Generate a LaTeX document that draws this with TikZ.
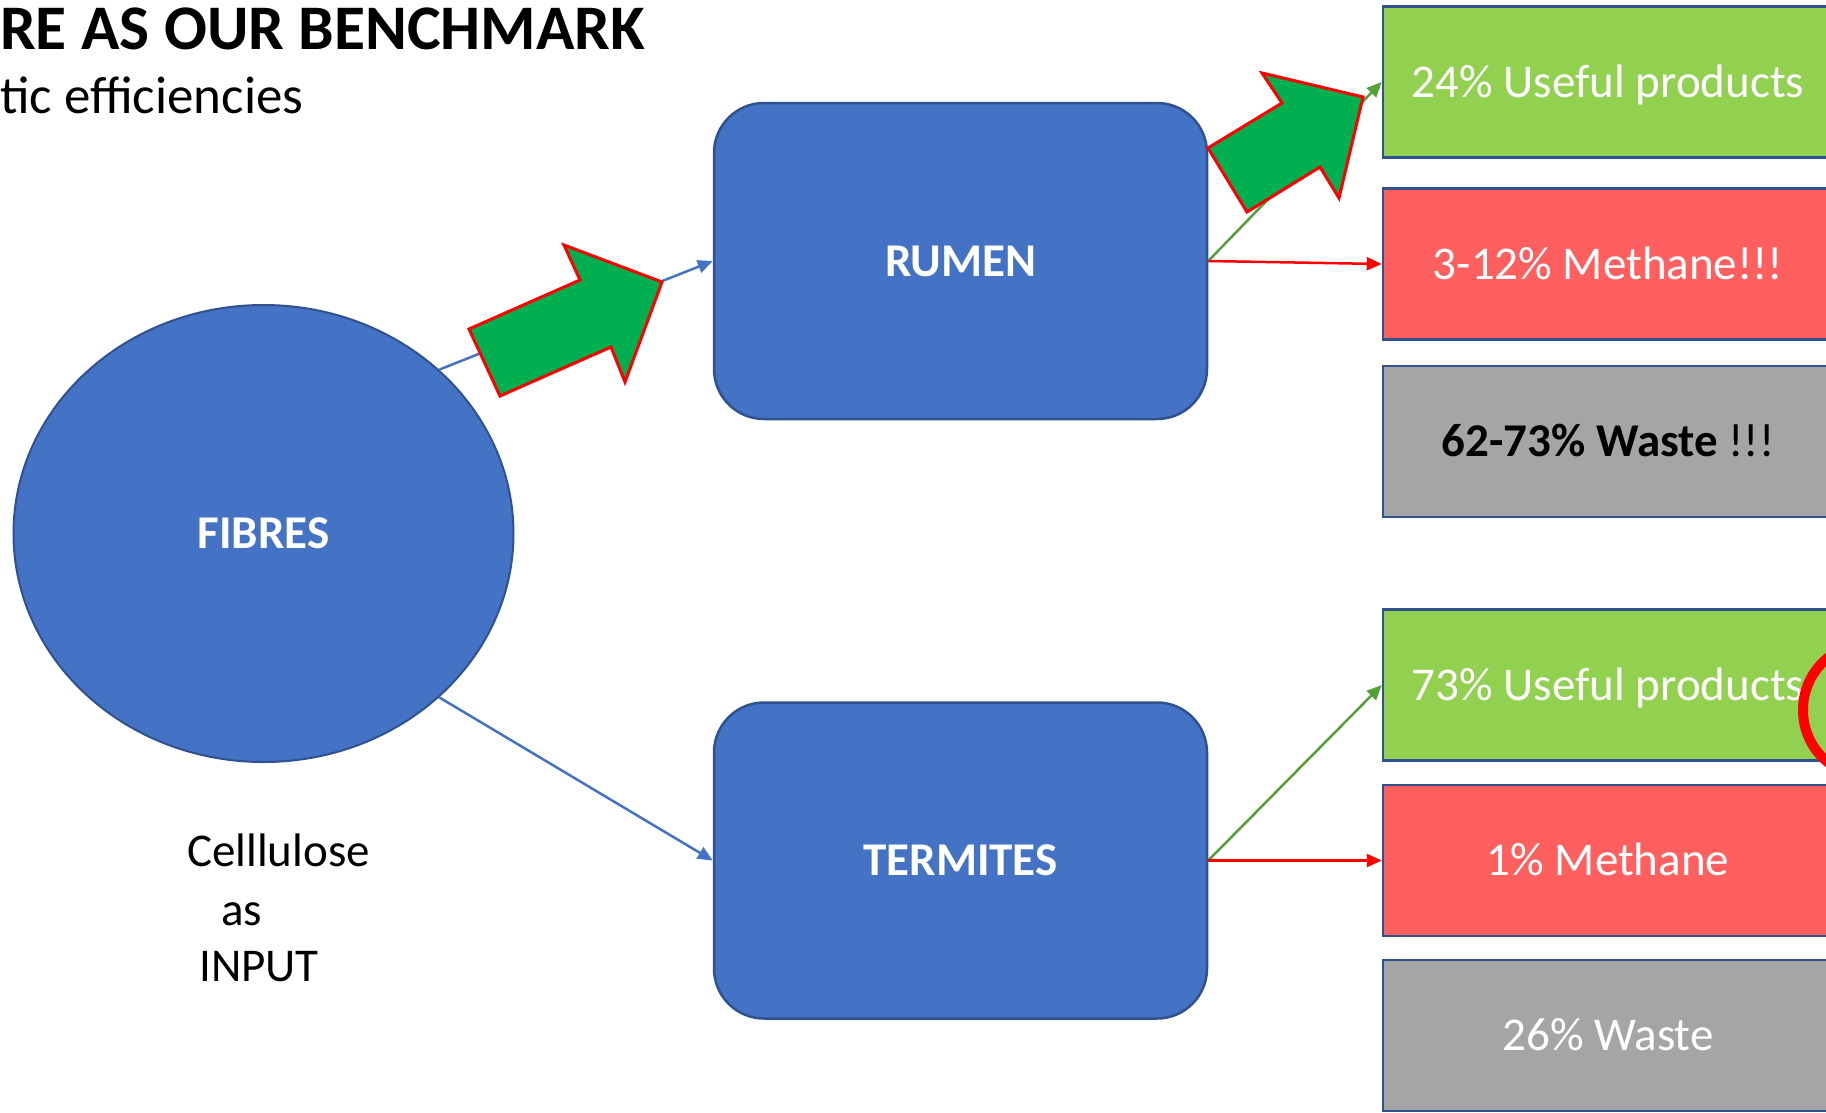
\documentclass[tikz,border=0pt]{standalone}
\usepackage{fontspec}
\setmainfont{Carlito}
\usetikzlibrary{shapes.geometric, arrows.meta, positioning}
\definecolor{boxblue}{HTML}{4472C4}
\definecolor{edgeblue}{HTML}{2F528F}
\definecolor{usegreen}{HTML}{92D050}
\definecolor{methred}{HTML}{FF5F5F}
\definecolor{wastegray}{HTML}{A5A5A5}
\definecolor{fatgreen}{HTML}{00B050}
\definecolor{linegreen}{HTML}{56A03A}

\begin{document}
\begin{tikzpicture}[
    x=1pt, y=-1pt,
    every node/.style={inner sep=0pt, font=\fontsize{47}{56}\selectfont},
    stage/.style={draw=edgeblue, line width=2.5pt, fill=boxblue, rounded corners=50pt, minimum width=493pt, minimum height=316pt, text=white, text height=30pt, text depth=0pt, font=\fontsize{47}{56}\selectfont\bfseries},
    outbox/.style={draw=edgeblue, line width=2.5pt, minimum width=450pt, minimum height=151pt, text=white, text height=30pt, text depth=0pt},
    arrow/.style={-{Triangle[length=15pt, width=13pt]}, line width=2.5pt},
    fatarrow/.style={fill=fatgreen, draw=red, line width=3pt, line join=miter}
]
\useasboundingbox (0,0) rectangle (1826,1112);
\clip (0,0) rectangle (1826,1112);

\node (title) [anchor=base west, font=\fontsize{63.5}{72}\selectfont\bfseries] at (0,49) {RE AS OUR BENCHMARK};
\node (subtitle) [anchor=base west, font=\fontsize{53}{60}\selectfont] at (0,113) {tic efficiencies};

\node (fibres) [ellipse, draw=edgeblue, line width=2pt, fill=boxblue, minimum width=500pt, minimum height=457pt, text=white, text height=30pt, text depth=0pt, font=\fontsize{47}{56}\selectfont\bfseries] at (263.5,533.5) {FIBRES};
\node (input) [anchor=north west, align=left, font=\fontsize{47}{59}\selectfont] at (187,834) {Celllulose\\ \hspace*{34pt}as\\[-3pt] \hspace*{12pt}INPUT};

\node (rumen) [stage] at (960.5,261) {RUMEN};
\node (termites) [stage] at (960.5,860.5) {TERMITES};

% rumen outputs
\node (ruuse) [outbox, fill=usegreen] at (1608,82) {24\% Useful products};
\node (rumeth) [outbox, fill=methred, below=28.5pt of ruuse] {3-12\% Methane!!!};
\node (ruwaste) [outbox, fill=wastegray, text=black, below=24pt of rumeth] {\textbf{62-73\% Waste} !!!};

% termite outputs
\node (teuse) [outbox, fill=usegreen] at (1608,685) {73\% Useful products};
\node (temeth) [outbox, fill=methred, below=22pt of teuse] {1\% Methane};
\node (tewaste) [outbox, fill=wastegray, below=21.5pt of temeth] {26\% Waste};

\draw[arrow, boxblue] (fibres.43) -- (rumen.west);
\draw[arrow, boxblue] (fibres.-43) -- (termites.west);
\draw[arrow, linegreen] (rumen.east) -- (ruuse.west);
\draw[arrow, red] (rumen.east) -- (rumeth.west);
\draw[arrow, linegreen] (termites.east) -- (teuse.west);
\draw[arrow, red] (termites.east) -- (temeth.west);

% big green arrows
\filldraw[fatarrow] (469,329) -- (580,280) -- (564,245) -- (662,282) -- (625,382) -- (611,347) -- (500,396) -- cycle;
\filldraw[fatarrow] (1208,148) -- (1282,103) -- (1262,73) -- (1363,97) -- (1339,198) -- (1320,167) -- (1247,212) -- cycle;

\draw[red, line width=10pt] (1867,710) ellipse [x radius=64, y radius=66];
\end{tikzpicture}
\end{document}
